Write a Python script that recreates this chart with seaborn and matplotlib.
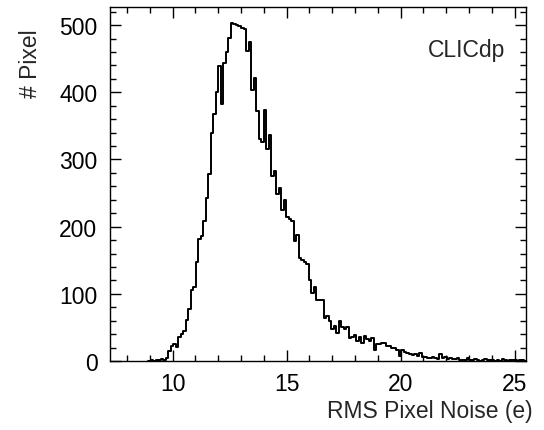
import numpy as np
import pandas as pd
import matplotlib
matplotlib.use("Agg")
import matplotlib.pyplot as plt
import seaborn as sns
from matplotlib.ticker import MultipleLocator

# ---- data ----
bin_start = 8.927
bin_width = 0.11
counts = [0, 1, 0, 1, 1, 3, 1, 5,
          15, 22, 25, 21, 35, 40, 45, 61, 77, 106, 110, 147, 181, 186, 209, 243, 278,
          340, 367, 400, 439, 382, 443, 460, 481, 503, 502, 500, 498, 496, 494, 462, 475,
          404, 421, 372, 331, 326, 373, 316, 336, 276, 283, 249, 257, 225, 239, 214, 212,
          209, 178, 188, 154, 151, 148, 145, 121, 101, 110, 91, 91, 91, 64, 67, 59, 47,
          52, 42, 59, 50, 47, 50, 34, 36, 38, 30, 35, 27, 37, 33, 30, 34, 17, 26, 26, 27,
          27, 22, 22, 19, 20, 17, 8, 16, 14, 12, 10, 9, 11, 7, 12, 6, 6, 5, 4, 6, 4, 3,
          10, 5, 6, 3, 4, 3, 3, 4, 2, 1, 2, 4, 2, 1, 3, 1, 0, 1, 3, 1, 1, 2, 0, 1, 0, 3,
          2, 0, 2, 2, 1, 0, 2, 1, 0]
x_ticks = [10, 15, 20, 25]
y_ticks = [0, 100, 200, 300, 400, 500]
x_label = "RMS Pixel Noise (e)"
y_label = "# Pixel"
tag = "CLICdp"

n_bins = len(counts)
bin_end = bin_start + bin_width * n_bins
centers = bin_start + bin_width * (np.arange(n_bins) + 0.5)
df = pd.DataFrame({"noise": centers, "n": np.asarray(counts, dtype=float)})

sns.set_theme(style="ticks")
plt.rcParams["font.family"] = ["Liberation Sans", "DejaVu Sans"]

FS = 16.5
fig = plt.figure(figsize=(5.44, 4.31), dpi=100)
ax = fig.add_axes([110 / 544, 1 - 362 / 431, (526 - 110) / 544, (362 - 8) / 431])

sns.histplot(data=df, x="noise", weights="n", bins=n_bins,
             binrange=(bin_start, bin_end), element="step",
             fill=False, color="black", linewidth=1.4, ax=ax)

ax.set_xlim(7.25, 25.5)
ax.set_ylim(0, 527)
ax.set_xticks(x_ticks)
ax.set_yticks(y_ticks)
ax.xaxis.set_minor_locator(MultipleLocator(1))
ax.yaxis.set_minor_locator(MultipleLocator(20))
ax.tick_params(which="both", direction="in", top=True, right=True,
               colors="black", labelsize=FS, width=1.0)
ax.tick_params(which="major", length=8)
ax.tick_params(which="minor", length=4.3)
ax.tick_params(axis="x", pad=8)
ax.tick_params(axis="y", pad=9)
for s in ax.spines.values():
    s.set_linewidth(1.0)
    s.set_color("black")

ax.set_xlabel(x_label, loc="right", fontsize=FS)
ax.xaxis.set_label_coords(1.017, -0.108)
ax.set_ylabel(y_label, loc="top", fontsize=FS)
ax.yaxis.set_label_coords(-0.163, 0.94)
ax.text(0.95, 0.88, tag, transform=ax.transAxes, ha="right", va="center",
        fontsize=FS)

fig.savefig("out.png", dpi=100)
